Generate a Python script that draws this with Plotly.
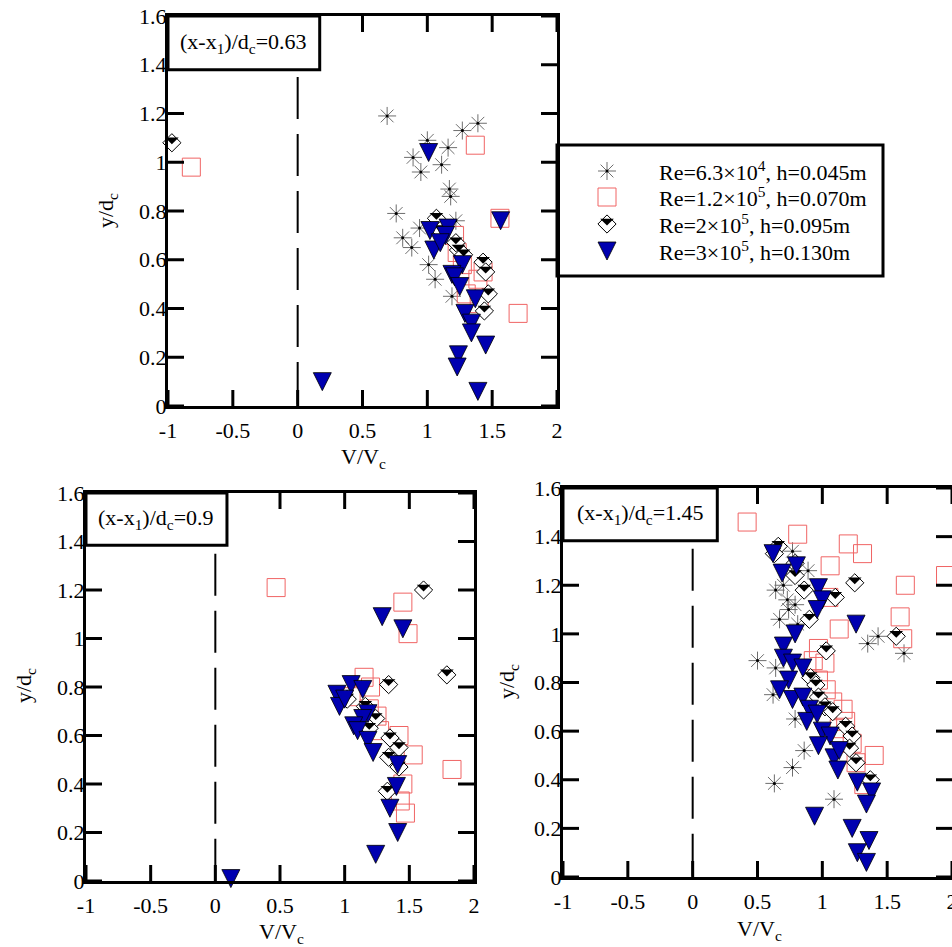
import math
import plotly.graph_objects as go

W, H = 952, 947
FONT = "Liberation Serif"

# ---------------- data ----------------
x_tickvals = [-1, -0.5, 0, 0.5, 1, 1.5, 2]
x_ticktext = ["-1", "-0.5", "0", "0.5", "1", "1.5", "2"]
y_tickvals = [0, 0.2, 0.4, 0.6, 0.8, 1.0, 1.2, 1.4, 1.6]
y_ticktext = ["0", "0.2", "0.4", "0.6", "0.8", "1", "1.2", "1.4", "1.6"]

series_names = [
    "Re=6.3×10<sup>4</sup>, h=0.045m",
    "Re=1.2×10<sup>5</sup>, h=0.070m",
    "Re=2×10<sup>5</sup>, h=0.095m",
    "Re=3×10<sup>5</sup>, h=0.130m",
]
panel_labels = [
    "(x-x<sub>1</sub>)/d<sub>c</sub>=0.63",
    "(x-x<sub>1</sub>)/d<sub>c</sub>=0.9",
    "(x-x<sub>1</sub>)/d<sub>c</sub>=1.45",
]
x_title = "V/V<sub>c</sub>"
y_title = "y/d<sub>c</sub>"

# panel 1 : (x-x1)/dc = 0.63
p1_ast_x = [0.69, 1.00, 1.16, 1.27, 1.39, 0.89, 0.95, 1.11, 1.17, 1.18, 0.76, 0.81, 0.88, 0.94, 1.01, 1.06, 1.22, 1.19]
p1_ast_y = [1.19, 1.09, 1.06, 1.13, 1.16, 1.02, 0.96, 0.99, 0.89, 0.86, 0.79, 0.69, 0.65, 0.73, 0.58, 0.52, 0.76, 0.45]
p1_sq_x = [-0.82, 1.37, 1.56, 1.70, 1.21, 1.23, 1.27, 1.39, 1.43, 1.30, 1.40]
p1_sq_y = [0.98, 1.07, 0.77, 0.38, 0.70, 0.63, 0.58, 0.52, 0.55, 0.46, 0.42]
p1_dia_x = [-0.97, 1.07, 1.10, 1.24, 1.28, 1.43, 1.45, 1.47, 1.44, 1.22]
p1_dia_y = [1.08, 0.77, 0.72, 0.64, 0.62, 0.59, 0.55, 0.46, 0.39, 0.67]
p1_tri_x = [0.19, 1.01, 1.565, 1.02, 1.16, 1.14, 1.05, 1.10, 1.27, 1.19, 1.21, 1.25, 1.37, 1.29, 1.34, 1.34, 1.45, 1.24, 1.23, 1.39]
p1_tri_y = [0.10, 1.04, 0.76, 0.72, 0.73, 0.70, 0.64, 0.67, 0.58, 0.54, 0.53, 0.49, 0.44, 0.38, 0.34, 0.30, 0.25, 0.21, 0.16, 0.06]

# panel 2 : (x-x1)/dc = 0.9
p2_ast_x = []
p2_ast_y = []
p2_sq_x = [0.47, 1.45, 1.49, 1.83, 1.15, 1.20, 1.05, 1.19, 1.25, 1.27, 1.42, 1.53, 1.45, 1.43, 1.47]
p2_sq_y = [1.21, 1.15, 1.02, 0.46, 0.84, 0.80, 0.76, 0.71, 0.68, 0.62, 0.60, 0.52, 0.40, 0.33, 0.28]
p2_dia_x = [1.61, 1.79, 1.34, 1.02, 1.16, 1.24, 1.19, 1.35, 1.42, 1.34, 1.42, 1.33]
p2_dia_y = [1.20, 0.85, 0.81, 0.75, 0.72, 0.67, 0.63, 0.59, 0.55, 0.51, 0.47, 0.37]
p2_tri_x = [0.12, 1.29, 1.45, 1.05, 1.14, 0.94, 0.96, 1.00, 1.18, 1.14, 1.07, 1.10, 1.18, 1.22, 1.41, 1.40, 1.35, 1.41, 1.24]
p2_tri_y = [0.01, 1.09, 1.04, 0.81, 0.79, 0.77, 0.72, 0.75, 0.69, 0.67, 0.64, 0.62, 0.58, 0.53, 0.48, 0.39, 0.30, 0.20, 0.11]

# panel 3 : (x-x1)/dc = 1.45
p3_ast_x = [0.50, 0.64, 0.62, 0.79, 0.86, 0.77, 0.63, 1.09, 1.35, 1.43, 1.63, 0.64, 0.73, 0.74, 0.67, 0.77, 0.89, 0.79, 0.81, 0.70]
p3_ast_y = [0.89, 0.86, 0.75, 0.65, 0.52, 0.45, 0.385, 0.32, 0.96, 0.99, 0.92, 1.18, 1.14, 1.10, 1.06, 1.34, 1.26, 1.12, 1.04, 1.20]
p3_sq_x = [0.42, 0.81, 1.20, 1.31, 1.06, 1.64, 1.95, 1.60, 1.62, 1.13, 1.05, 0.97, 0.93, 1.02, 0.97, 1.03, 1.08, 1.16, 1.18, 1.13, 1.23, 1.40, 1.26, 1.32]
p3_sq_y = [1.46, 1.41, 1.37, 1.33, 1.28, 1.20, 1.24, 1.07, 0.98, 1.02, 1.15, 0.94, 0.89, 0.88, 0.81, 0.77, 0.72, 0.69, 0.64, 0.61, 0.55, 0.50, 0.47, 0.38]
p3_dia_x = [0.66, 0.63, 0.79, 0.79, 0.86, 1.10, 1.25, 0.90, 1.03, 1.57, 0.91, 0.95, 0.97, 1.02, 1.08, 1.18, 1.23, 1.21, 1.26, 1.37]
p3_dia_y = [1.36, 1.33, 1.29, 1.24, 1.18, 1.15, 1.21, 1.06, 0.93, 0.99, 0.82, 0.79, 0.74, 0.70, 0.68, 0.62, 0.58, 0.53, 0.47, 0.40]
p3_tri_x = [0.62, 0.69, 0.80, 0.97, 1.00, 0.96, 1.26, 0.79, 0.70, 0.70, 0.77, 0.85, 0.74, 0.67, 0.77, 0.85, 0.90, 0.88, 0.96, 1.00, 1.06, 0.97, 1.09, 1.13, 1.12, 1.27, 1.38, 1.34, 0.94, 1.23, 1.36, 1.27, 1.34]
p3_tri_y = [1.33, 1.25, 1.28, 1.19, 1.14, 1.10, 1.04, 1.00, 0.95, 0.90, 0.88, 0.86, 0.81, 0.77, 0.73, 0.74, 0.69, 0.64, 0.67, 0.60, 0.58, 0.54, 0.49, 0.52, 0.44, 0.39, 0.35, 0.30, 0.25, 0.20, 0.15, 0.10, 0.06]

# ---------------- layout constants (pixels) ----------------
X_RANGE = [-1, 2]
Y_RANGE = [0, 1.6]
PANELS = [
    dict(box=(168, 557, 16, 406), lab_x1=0.17, lab_y0=1.38,
         xt=(363, 458), yt=(107, 211),
         data=(p1_ast_x, p1_ast_y, p1_sq_x, p1_sq_y, p1_dia_x, p1_dia_y, p1_tri_x, p1_tri_y)),
    dict(box=(86, 474, 493, 881), lab_x1=0.09, lab_y0=1.385,
         xt=(281, 933), yt=(25, 686),
         data=(p2_ast_x, p2_ast_y, p2_sq_x, p2_sq_y, p2_dia_x, p2_dia_y, p2_tri_x, p2_tri_y)),
    dict(box=(563, 952, 488, 877), lab_x1=0.19, lab_y0=1.383,
         xt=(759, 930), yt=(508, 682),
         data=(p3_ast_x, p3_ast_y, p3_sq_x, p3_sq_y, p3_dia_x, p3_dia_y, p3_tri_x, p3_tri_y)),
]
DASH_TOP = 1.35
TICK_LEN = 16
TICK_W = 3
LEGEND_BOX = (557, 883, 145, 276)
LEG_SYM_X = 607
LEG_TEXT_X = 657
LEG_ROWS = [171, 197, 224, 251]

# ---------------- marker styles ----------------
AST_COLOR = "#6e6e6e"
SQ_COLOR = "#f06464"
TRI_COLOR = "#0000b0"
AST = dict(symbol="asterisk-open", size=15, color=AST_COLOR, line=dict(width=1, color=AST_COLOR))
AST_DOT = dict(symbol="circle", size=3, color="black", line=dict(width=0))
SQ = dict(symbol="square-open", size=18, color=SQ_COLOR, line=dict(width=1, color=SQ_COLOR))
DIA_SIZE = 14
DIA = dict(symbol="diamond", size=DIA_SIZE, color="white", line=dict(width=1, color="black"))
rd = 0.65 * DIA_SIZE                      # half diagonal of plotly diamond
half_r = rd / (1.2 * math.sqrt(2))        # triangle-ne radius giving same half-width
HALF_SIZE = 2 * half_r
HALF_SHIFT_PX = 0.4 * math.sqrt(2) * half_r  # hypotenuse offset below center after rotation
HALF = dict(symbol="triangle-ne", angle=135, size=HALF_SIZE, color="black", line=dict(width=0))
TRI_SIZE = 18
TRI = dict(symbol="arrow-down", size=TRI_SIZE, standoff=TRI_SIZE / 2, color=TRI_COLOR,
           line=dict(width=0.8, color="black"))

fig = go.Figure()
layout = dict(
    width=W, height=H, margin=dict(l=0, r=0, t=0, b=0, autoexpand=False),
    paper_bgcolor="white", plot_bgcolor="white", showlegend=False,
    font=dict(family=FONT, size=22, color="black"),
)
shapes = []
annotations = []

axis_common = dict(
    showline=True, linewidth=3, linecolor="black", mirror=True,
    ticks="", showgrid=False, zeroline=False,
    tickfont=dict(family=FONT, size=22, color="black"),
)


def sc(x, y, marker, xa, ya):
    return go.Scatter(x=x, y=y, mode="markers", marker=marker, xaxis=xa, yaxis=ya,
                      cliponaxis=False, hoverinfo="skip")


for k, p in enumerate(PANELS, start=1):
    l, r, t, b = p["box"]
    xa = "x" if k == 1 else f"x{k}"
    ya = "y" if k == 1 else f"y{k}"
    ax_x, ax_y, sq_x, sq_y, di_x, di_y, tr_x, tr_y = p["data"]
    px_per_unit_y = (b - t) / (Y_RANGE[1] - Y_RANGE[0])
    px_per_unit_x = (r - l) / (X_RANGE[1] - X_RANGE[0])
    # pixel offset of the black lower half of the diamond, expressed in axis units
    d = HALF_SHIFT_PX / px_per_unit_y
    if ax_x:
        fig.add_trace(sc(ax_x, ax_y, AST, xa, ya))
        fig.add_trace(sc(ax_x, ax_y, AST_DOT, xa, ya))
    fig.add_trace(sc(sq_x, sq_y, SQ, xa, ya))
    fig.add_trace(sc(di_x, di_y, DIA, xa, ya))
    fig.add_trace(sc(di_x, [v + d for v in di_y], HALF, xa, ya))
    fig.add_trace(sc(tr_x, tr_y, TRI, xa, ya))

    # inward ticks on all four sides, drawn as one line trace
    tx = TICK_LEN / px_per_unit_x
    ty = TICK_LEN / px_per_unit_y
    lx, ly = [], []
    for v in x_tickvals:
        lx += [v, v, None, v, v, None]
        ly += [Y_RANGE[0], Y_RANGE[0] + ty, None, Y_RANGE[1], Y_RANGE[1] - ty, None]
    for v in y_tickvals:
        lx += [X_RANGE[0], X_RANGE[0] + tx, None, X_RANGE[1], X_RANGE[1] - tx, None]
        ly += [v, v, None, v, v, None]
    fig.add_trace(go.Scatter(x=lx, y=ly, mode="lines", xaxis=xa, yaxis=ya, cliponaxis=False,
                             line=dict(color="black", width=TICK_W), hoverinfo="skip"))

    xname = "xaxis" if k == 1 else f"xaxis{k}"
    yname = "yaxis" if k == 1 else f"yaxis{k}"
    layout[xname] = dict(domain=[l / W, r / W], range=X_RANGE, anchor=ya,
                         tickvals=x_tickvals, ticktext=x_ticktext, ticklabelstandoff=3,
                         ticklabeloverflow="allow", **axis_common)
    layout[yname] = dict(domain=[1 - b / H, 1 - t / H], range=Y_RANGE, anchor=xa,
                         tickvals=y_tickvals, ticktext=y_ticktext, ticklabelstandoff=-6,
                         **axis_common)

    # dashed zero line
    shapes.append(dict(type="line", xref=xa, yref=ya, x0=0, x1=0, y0=DASH_TOP, y1=0,
                       line=dict(color="black", width=2, dash="42px,15px"), layer="below"))
    # label box
    shapes.append(dict(type="rect", xref=xa, yref=ya, x0=X_RANGE[0], x1=p["lab_x1"],
                       y0=p["lab_y0"], y1=Y_RANGE[1], line=dict(color="black", width=3),
                       fillcolor="white", layer="above"))
    annotations.append(dict(text=panel_labels[k - 1], xref=xa, yref=ya,
                            x=(X_RANGE[0] + p["lab_x1"]) / 2, y=(p["lab_y0"] + Y_RANGE[1]) / 2,
                            showarrow=False, xanchor="center", yanchor="middle",
                            font=dict(family=FONT, size=22, color="black")))
    # axis titles
    annotations.append(dict(text=x_title, xref="paper", yref="paper",
                            x=p["xt"][0] / W, y=1 - p["xt"][1] / H, showarrow=False,
                            xanchor="center", yanchor="middle",
                            font=dict(family=FONT, size=22, color="black")))
    annotations.append(dict(text=y_title, xref="paper", yref="paper", textangle=-90,
                            x=p["yt"][0] / W, y=1 - p["yt"][1] / H, showarrow=False,
                            xanchor="center", yanchor="middle",
                            font=dict(family=FONT, size=22, color="black")))

# ---------------- legend (manual) ----------------
gl, gr, gt, gb = LEGEND_BOX
shapes.append(dict(type="rect", xref="paper", yref="paper", x0=gl / W, x1=gr / W,
                   y0=1 - gb / H, y1=1 - gt / H, line=dict(color="black", width=3),
                   fillcolor="white", layer="below"))
layout["xaxis4"] = dict(domain=[gl / W, gr / W], range=[gl, gr], anchor="y4", visible=False)
layout["yaxis4"] = dict(domain=[1 - gb / H, 1 - gt / H], range=[gb, gt], anchor="x4", visible=False)
leg_styles = [[AST, AST_DOT], [SQ], [DIA, HALF], [TRI]]
for row, styles in zip(LEG_ROWS, leg_styles):
    for m in styles:
        yy = row - HALF_SHIFT_PX if m is HALF else row
        fig.add_trace(sc([LEG_SYM_X], [yy], m, "x4", "y4"))
for name, row in zip(series_names, LEG_ROWS):
    annotations.append(dict(text=name, xref="paper", yref="paper", x=LEG_TEXT_X / W, y=1 - row / H,
                            showarrow=False, xanchor="left", yanchor="middle",
                            font=dict(family=FONT, size=22, color="black")))

layout["shapes"] = shapes
layout["annotations"] = annotations
fig.update_layout(**layout)
fig.write_html(
    "out.html",
    post_script="document.body.style.margin='0px';document.documentElement.style.overflow='hidden';",
)
